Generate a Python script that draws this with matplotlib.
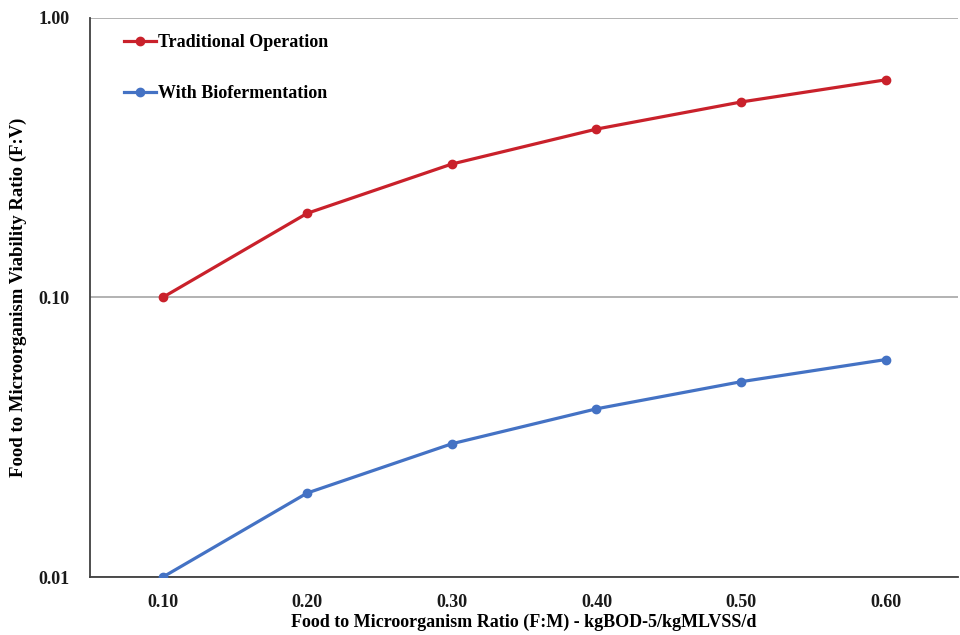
import matplotlib
matplotlib.use("Agg")
from matplotlib import pyplot as plt
from matplotlib.ticker import FixedLocator, NullLocator

# Chart data
fm_ratio = [0.10, 0.20, 0.30, 0.40, 0.50, 0.60]
traditional = [0.10, 0.20, 0.30, 0.40, 0.50, 0.60]
biofermentation = [0.01, 0.02, 0.03, 0.04, 0.05, 0.06]
y_ticks = [0.01, 0.10, 1.00]

plt.rcParams['font.family'] = ['Liberation Serif', 'DejaVu Serif']
plt.rcParams['font.weight'] = 'bold'

fig = plt.figure(figsize=(9.6, 6.35), dpi=100)
ax = fig.add_axes([0.094, 0.091, 0.904, 0.881])

ax.plot(fm_ratio, traditional, color='#C9212B', linewidth=2.3, marker='o',
        markersize=6, label='Traditional Operation', zorder=3)
ax.plot(fm_ratio, biofermentation, color='#4472C4', linewidth=2.3, marker='o',
        markersize=6, label='With Biofermentation', zorder=3)

ax.set_yscale('log')
ax.set_ylim(0.01, 1.0)
ax.set_xlim(0.05, 0.65)
ax.yaxis.set_major_locator(FixedLocator(y_ticks))
ax.yaxis.set_minor_locator(NullLocator())
ax.yaxis.set_major_formatter('{x:.2f}')
ax.set_xticks(fm_ratio)
ax.xaxis.set_major_formatter('{x:.2f}')
ax.tick_params(axis='both', length=0, labelsize=13, colors='#1a1a1a')
ax.tick_params(axis='y', pad=15)
ax.tick_params(axis='x', pad=12)

ax.grid(True, axis='y', color='#a6a6a6', linewidth=1.2)
ax.set_axisbelow(True)
for side in ['top', 'right']:
    ax.spines[side].set_visible(False)
ax.spines['left'].set_color('#404040')
ax.spines['bottom'].set_color('#404040')
ax.spines['left'].set_linewidth(1.3)
ax.spines['bottom'].set_linewidth(1.3)

ax.set_xlabel("Food to Microorganism Ratio (F:M) - kgBOD-5/kgMLVSS/d",
              fontsize=13, fontweight='bold', labelpad=2)
ax.set_ylabel("Food to Microorganism Viability Ratio (F:V)",
              fontsize=13.5, fontweight='bold', labelpad=8)

ax.legend(loc='upper left', frameon=False, fontsize=13, labelspacing=1.9,
          handlelength=1.8, handletextpad=0.1, bbox_to_anchor=(0.02, 1.0))

fig.savefig("out.png", dpi=100)
